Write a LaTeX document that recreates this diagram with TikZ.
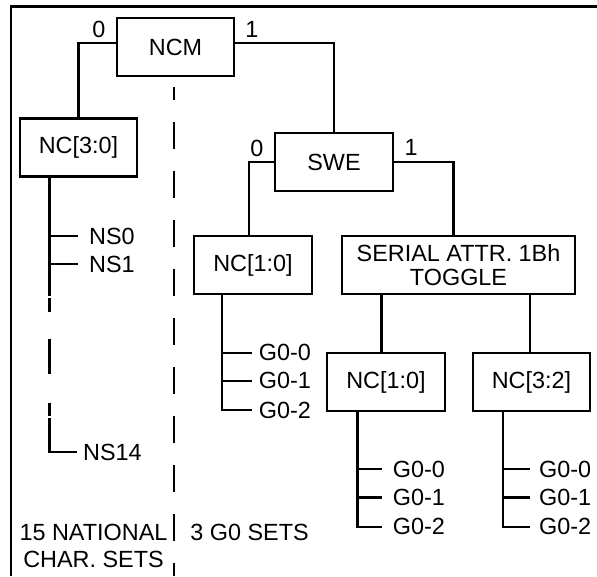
\documentclass[tikz,border=0pt]{standalone}
\usepackage{fontspec}
\setmainfont{Liberation Sans}
\usetikzlibrary{positioning,calc}

\begin{document}
\begin{tikzpicture}[x=0.5pt, y=-0.5pt, line width=1.2pt,
    font=\fontsize{11.7}{12}\selectfont,
    selbox/.style={draw, rectangle, minimum width=58.75pt, minimum height=29pt, inner sep=0pt, align=center},
    leaf/.style={anchor=west, inner xsep=3pt, inner ysep=0pt},
    bitlabel/.style={inner sep=0pt},
    sepline/.style={dash pattern=on 13.5pt off 11pt, dash phase=7pt}]
    \useasboundingbox (0,0) rectangle (597,576);
    % Frame
    \draw (11,576) -- (11,6.7) -- (597,6.7);
    % Selector boxes
    \node[selbox] (ncm) at (175.5,47) {NCM};
    \node[selbox] (nc30) at (78.5,147.5) {NC[3:0]};
    \node[selbox] (swe) at (334,162) {SWE};
    \node[selbox] (ncl) at (253,265) {NC[1:0]};
    \node[selbox, minimum width=116.5pt] (serial) at (458.5,265) {SERIAL ATTR. 1Bh\\TOGGLE};
    \node[selbox] (ncr) at (386,382) {NC[1:0]};
    \node[selbox] (nc32) at (531.5,382) {NC[3:2]};
    % Bit values
    \node[bitlabel] (ncm0) at (99,29) {0};
    \node[bitlabel] (ncm1) at (252,29) {1};
    \node[bitlabel] (swe0) at (257,148) {0};
    \node[bitlabel] (swe1) at (411,147) {1};
    % Character sets
    \node[leaf, inner xsep=5pt] (ns0) at (78,236) {NS0};
    \node[leaf, inner xsep=5pt] (ns1) at (78,264) {NS1};
    \node[leaf, inner xsep=2.5pt] (ns14) at (77,452) {NS14};
    \node[leaf] (la0) at (251.7,352.7) {G0-0};
    \node[leaf] (la1) at (251.7,380.7) {G0-1};
    \node[leaf] (la2) at (251.7,410) {G0-2};
    \node[leaf, inner xsep=5pt] (lb0) at (381.7,469) {G0-0};
    \node[leaf, inner xsep=5pt] (lb1) at (381.7,497.3) {G0-1};
    \node[leaf, inner xsep=5pt] (lb2) at (381.7,526.7) {G0-2};
    \node[leaf, inner xsep=4pt] (lc0) at (530,469) {G0-0};
    \node[leaf, inner xsep=4pt] (lc1) at (530,497.3) {G0-1};
    \node[leaf, inner xsep=4pt] (lc2) at (530,526.7) {G0-2};
    % Captions
    \node[align=center, font=\fontsize{11.7}{13.75}\selectfont, inner sep=0pt] (natsets) at (93.5,546) {15 NATIONAL\\CHAR. SETS};
    \node[inner sep=0pt] (g0sets) at (249.5,532) {3 G0 SETS};
    % Tree
    \draw ([yshift=2pt]ncm.west) -| (nc30);
    \draw ([yshift=2pt]ncm.east) -| (swe);
    \draw (swe.west) -| ([xshift=-2pt]ncl.north);
    \draw (swe.east) -| ([xshift=-2.5pt]serial.north);
    \coordinate (tapb) at ([xshift=-2.2pt]ncr.north);
    \coordinate (tapc) at ([xshift=-0.75pt]nc32.north);
    \draw (tapb) -- (tapb |- serial.south);
    \draw (tapc) -- (tapc |- serial.south);
    % Trunks
    \coordinate (trunkns) at ([xshift=-14.6pt]nc30.south);
    \coordinate (trunka) at ([xshift=-15.65pt]ncl.south);
    \coordinate (trunkb) at ([xshift=-14.35pt]ncr.south);
    \coordinate (trunkc) at ([xshift=-14.4pt]nc32.south);
    \draw (trunkns) -- ++(0,118) ++(0,2) -- ++(0,14) ++(0,27) -- ++(0,35) ++(0,29) -- ++(0,13) ++(0,2) -- (trunkns |- ns14.west) -- (ns14.west);
    \draw (ns0.west -| trunkns) -- (ns0.west);
    \draw (ns1.west -| trunkns) -- (ns1.west);
    \draw (trunka) |- (la2.west);
    \draw (la0.west -| trunka) -- (la0.west);
    \draw (la1.west -| trunka) -- (la1.west);
    \draw (trunkb) |- (lb2.west);
    \draw (lb0.west -| trunkb) -- (lb0.west);
    \draw (lb1.west -| trunkb) -- (lb1.west);
    \draw (trunkc) |- (lc2.west);
    \draw (lc0.west -| trunkc) -- (lc0.west);
    \draw (lc1.west -| trunkc) -- (lc1.west);
    % Separator
    \coordinate (septop) at (173.7,87);
    \coordinate (sepbot) at (173.7,576);
    \draw[sepline] (septop) -- (sepbot);
\end{tikzpicture}
\end{document}
